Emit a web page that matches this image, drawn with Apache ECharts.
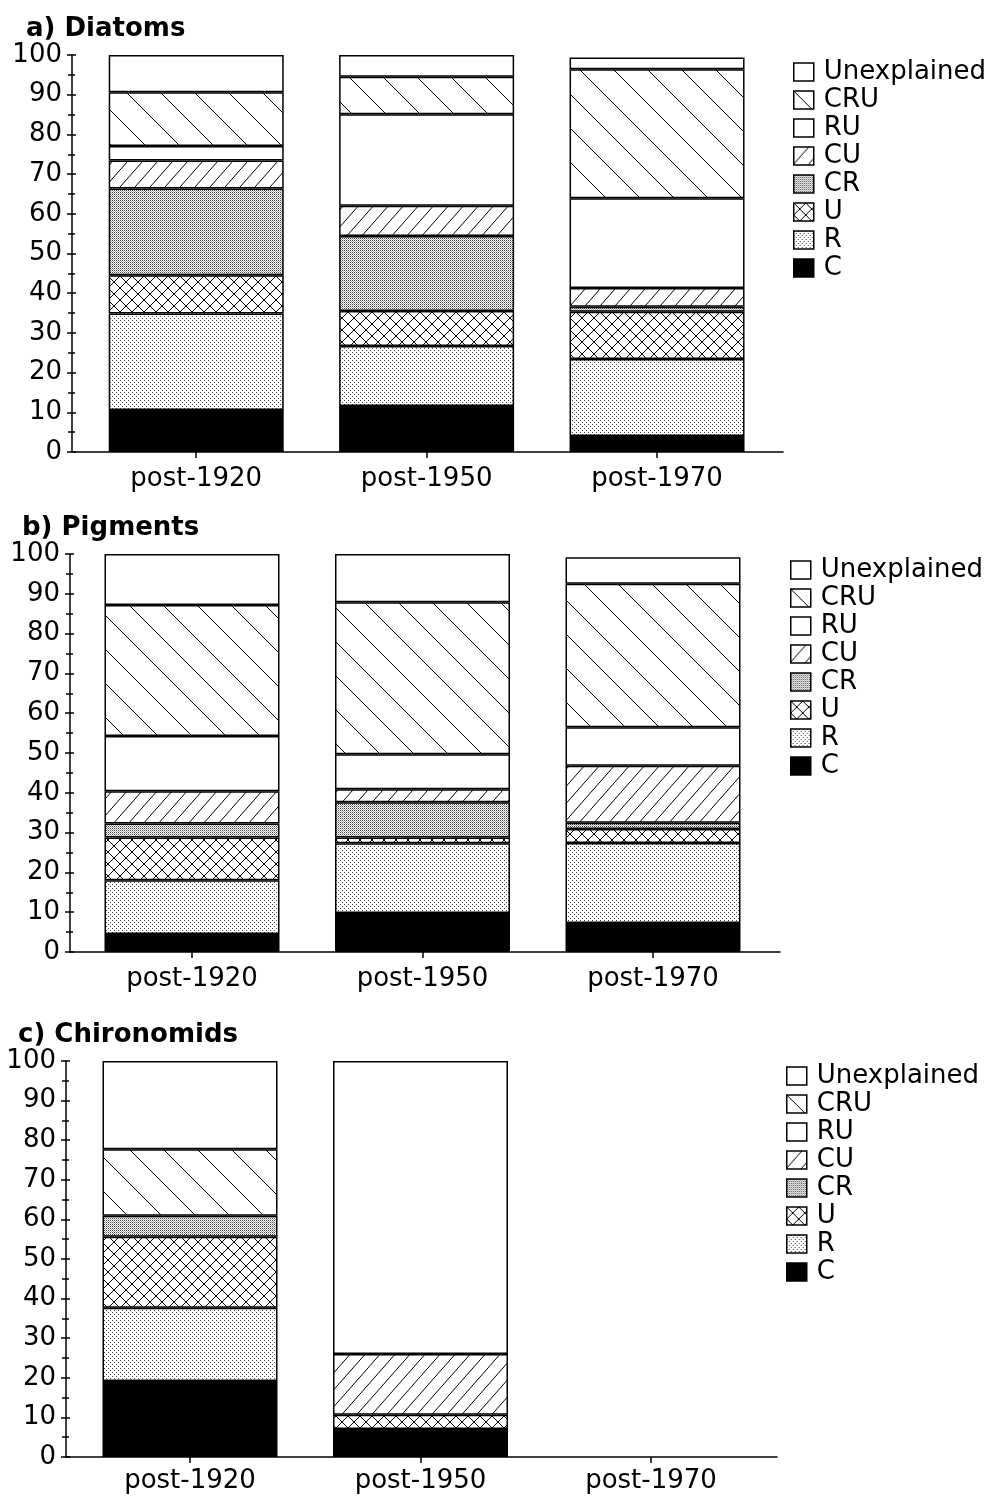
<!DOCTYPE html>
<html>
<head>
<meta charset="utf-8">
<script src="https://cdn.jsdelivr.net/npm/echarts@6/dist/echarts.min.js"></script>
<style>
  html, body { margin: 0; padding: 0; background: #fff; }
  #chart { width: 1004px; height: 1500px; }
</style>
</head>
<body>
<div id="chart"></div>
<script>
// Categories and component names (stacked bottom to top)
const categories = ['post-1920', 'post-1950', 'post-1970'];
const components = ['C', 'R', 'U', 'CR', 'CU', 'RU', 'CRU', 'Unexplained'];
const legendOrder = ['Unexplained', 'CRU', 'RU', 'CU', 'CR', 'U', 'R', 'C'];
const yTickValues = [0, 10, 20, 30, 40, 50, 60, 70, 80, 90, 100];

// a) Diatoms: variance fraction per component (%), one value per period
const diatomsC   = [10.6, 11.6, 4.0];
const diatomsR   = [24.3, 15.1, 19.4];
const diatomsU   = [9.6, 8.8, 11.9];
const diatomsCR  = [21.9, 18.9, 1.3];
const diatomsCU  = [7.0, 7.6, 4.7];
const diatomsRU  = [3.7, 23.1, 22.6];
const diatomsCRU = [13.5, 9.4, 32.5];
const diatomsUnexplained = [9.4, 5.5, 3.0];

// b) Pigments
const pigmentsC   = [4.5, 9.8, 7.3];
const pigmentsR   = [13.5, 17.5, 20.1];
const pigmentsU   = [10.8, 1.5, 3.5];
const pigmentsCR  = [3.5, 8.8, 1.6];
const pigmentsCU  = [8.1, 3.3, 14.3];
const pigmentsRU  = [13.9, 8.8, 9.7];
const pigmentsCRU = [32.9, 38.2, 36.0];
const pigmentsUnexplained = [12.8, 12.1, 6.7];

// c) Chironomids (no post-1970 result)
const chironomidsC   = [19.2, 7.1, 0];
const chironomidsR   = [18.5, 0, 0];
const chironomidsU   = [17.9, 3.6, 0];
const chironomidsCR  = [5.3, 0, 0];
const chironomidsCU  = [0, 15.3, 0];
const chironomidsRU  = [0, 0, 0];
const chironomidsCRU = [16.8, 0, 0];
const chironomidsUnexplained = [22.3, 74.0, 0];

const panelData = [
  { title: 'a) Diatoms', values: [diatomsC, diatomsR, diatomsU, diatomsCR, diatomsCU, diatomsRU, diatomsCRU, diatomsUnexplained] },
  { title: 'b) Pigments', values: [pigmentsC, pigmentsR, pigmentsU, pigmentsCR, pigmentsCU, pigmentsRU, pigmentsCRU, pigmentsUnexplained] },
  { title: 'c) Chironomids', values: [chironomidsC, chironomidsR, chironomidsU, chironomidsCR, chironomidsCU, chironomidsRU, chironomidsCRU, chironomidsUnexplained] }
];

// Panel geometry (pixels)
const layouts = [
  { titleLeft: 26, titleTop: 16, top: 55, bottom: 1048, barLeft: 81, barRight: 231.75, axisLeft: 72, axisRight: 221, labelMargin: 14, legendLeft: 793, legendTop: 59 },
  { titleLeft: 22, titleTop: 515, top: 554, bottom: 548, barLeft: 76.75, barRight: 235.75, axisLeft: 70, axisRight: 224, labelMargin: 14, legendLeft: 790, legendTop: 557 },
  { titleLeft: 18, titleTop: 1022, top: 1061, bottom: 43, barLeft: 74.75, barRight: 237.75, axisLeft: 66, axisRight: 227, labelMargin: 11, legendLeft: 786, legendTop: 1063 }
];

const FONT = 'DejaVu Sans';

// Monochrome fill patterns
function tile(w, h, draw) {
  const c = document.createElement('canvas');
  c.width = w; c.height = h;
  const g = c.getContext('2d');
  g.fillStyle = '#fff';
  g.fillRect(0, 0, w, h);
  draw(g, w, h);
  return { image: c, repeat: 'repeat' };
}
function lines(g, segs) {
  g.strokeStyle = '#000';
  g.lineWidth = 1;
  g.beginPath();
  segs.forEach(s => { g.moveTo(s[0], s[1]); g.lineTo(s[2], s[3]); });
  g.stroke();
}
const fills = {
  C: '#000',
  R: tile(4, 4, g => { g.fillStyle = '#444'; g.fillRect(0, 0, 1, 1); g.fillRect(2, 2, 1, 1); }),
  U: tile(12, 12, (g, w, h) => lines(g, [[-w, -h, 2 * w, 2 * h], [2 * w, -h, -w, 2 * h]])),
  CR: tile(2, 2, g => { g.fillStyle = '#444'; g.fillRect(0, 0, 1, 1); g.fillStyle = '#aaa'; g.fillRect(1, 1, 1, 1); }),
  CU: tile(15, 17, (g, w, h) => lines(g, [[-w, 2 * h, 2 * w, -h]])),
  RU: '#fff',
  CRU: tile(34, 34, (g, w, h) => lines(g, [[-w, -h, 2 * w, 2 * h]])),
  Unexplained: '#fff'
};

const option = {
  animation: false,
  backgroundColor: '#fff',
  textStyle: { fontFamily: FONT, color: '#000' },
  title: [], legend: [], grid: [], xAxis: [], yAxis: [], series: []
};

const labelStyle = { fontFamily: FONT, fontSize: 26, color: '#000' };
const lineStyle = { color: '#000', width: 1.5 };

panelData.forEach((panel, p) => {
  const L = layouts[p];
  option.title.push({
    text: panel.title, left: L.titleLeft, top: L.titleTop, padding: 0,
    textStyle: { fontFamily: FONT, fontSize: 26, fontWeight: 'bold', color: '#000' }
  });
  option.legend.push({
    orient: 'vertical', left: L.legendLeft, top: L.legendTop, padding: 0,
    itemWidth: 20, itemHeight: 18, itemGap: 2, icon: 'rect', selectedMode: false,
    data: legendOrder,
    itemStyle: { borderColor: '#000', borderWidth: 1.5 },
    textStyle: Object.assign({ lineHeight: 25, padding: [0, 0, 0, 5] }, labelStyle)
  });
  // bar grid
  option.grid.push({ left: L.barLeft, right: L.barRight, top: L.top, bottom: L.bottom, containLabel: false });
  // frame grid carrying the visible value axis and baseline
  option.grid.push({ left: L.axisLeft, right: L.axisRight, top: L.top, bottom: L.bottom, containLabel: false });

  const g0 = 2 * p, g1 = 2 * p + 1;
  option.xAxis.push({
    type: 'category', gridIndex: g0, data: categories, boundaryGap: true,
    axisLine: { show: false },
    axisTick: { show: true, alignWithLabel: true, length: 6, lineStyle: lineStyle },
    axisLabel: Object.assign({ margin: L.labelMargin, interval: 0 }, labelStyle),
    splitLine: { show: false }
  });
  option.xAxis.push({
    type: 'value', gridIndex: g1, min: 0, max: 1,
    axisLine: { show: true, lineStyle: lineStyle },
    axisTick: { show: false }, axisLabel: { show: false }, splitLine: { show: false }
  });
  // hidden scale for the bars
  option.yAxis.push({ type: 'value', gridIndex: g0, min: 0, max: 100, show: false });
  // visible axis, ticks outside
  option.yAxis.push({
    type: 'value', gridIndex: g1, position: 'left', min: 0, max: 100, interval: 10,
    axisLine: { show: true, lineStyle: lineStyle },
    axisTick: { show: true, length: 5, lineStyle: lineStyle },
    minorTick: { show: true, splitNumber: 2, length: 4, lineStyle: lineStyle },
    axisLabel: Object.assign({ margin: 10, customValues: yTickValues }, labelStyle),
    splitLine: { show: false }
  });
  // same axis, ticks inside
  option.yAxis.push({
    type: 'value', gridIndex: g1, position: 'left', offset: 0, min: 0, max: 100, interval: 10,
    axisLine: { show: false },
    axisTick: { show: true, inside: true, length: 4, lineStyle: lineStyle },
    minorTick: { show: true, splitNumber: 2, length: 3, lineStyle: lineStyle },
    axisLabel: { show: false },
    splitLine: { show: false }
  });

  components.forEach((name, k) => {
    option.series.push({
      name: name, type: 'bar', stack: 'panel' + p,
      xAxisIndex: g0, yAxisIndex: 3 * p,
      barWidth: 175,
      data: panel.values[k].map(v => (v > 0 ? v : '-')),
      itemStyle: { color: fills[name], borderColor: '#000', borderWidth: 1.5 },
      emphasis: { disabled: true }
    });
  });
});

const chart = echarts.init(document.getElementById('chart'), null, { renderer: 'canvas' });
chart.setOption(option);
</script>
</body>
</html>
